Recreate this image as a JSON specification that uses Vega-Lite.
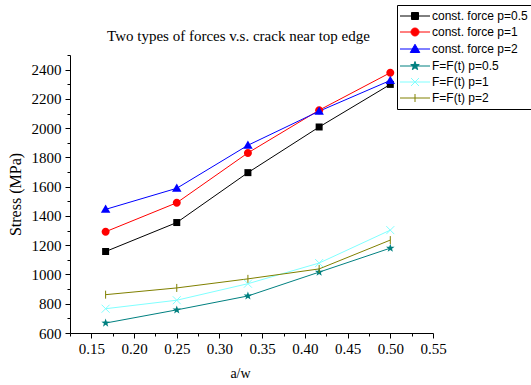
{
  "$schema": "https://vega.github.io/schema/vega-lite/v6.json",
  "width": 363,
  "height": 278,
  "autosize": {"type": "none"},
  "padding": {"left": 70, "top": 55, "right": 98, "bottom": 52},
  "background": "white",
  "title": {"text": "Two types of forces v.s. crack near top edge", "font": "Liberation Serif", "fontSize": 15, "fontWeight": "normal", "color": "black", "anchor": "middle", "offset": 8, "dx": -13, "dy": 47},
  "data": {"values": [
    {"series": "const. force p=0.5", "aw": 0.1667, "stress": 1157},
    {"series": "const. force p=0.5", "aw": 0.25, "stress": 1355},
    {"series": "const. force p=0.5", "aw": 0.3333, "stress": 1696},
    {"series": "const. force p=0.5", "aw": 0.4167, "stress": 2008},
    {"series": "const. force p=0.5", "aw": 0.5, "stress": 2299},
    {"series": "const. force p=1", "aw": 0.1667, "stress": 1292},
    {"series": "const. force p=1", "aw": 0.25, "stress": 1490},
    {"series": "const. force p=1", "aw": 0.3333, "stress": 1831},
    {"series": "const. force p=1", "aw": 0.4167, "stress": 2123},
    {"series": "const. force p=1", "aw": 0.5, "stress": 2379},
    {"series": "const. force p=2", "aw": 0.1667, "stress": 1445},
    {"series": "const. force p=2", "aw": 0.25, "stress": 1589},
    {"series": "const. force p=2", "aw": 0.3333, "stress": 1883},
    {"series": "const. force p=2", "aw": 0.4167, "stress": 2116},
    {"series": "const. force p=2", "aw": 0.5, "stress": 2326},
    {"series": "F=F(t) p=0.5", "aw": 0.1667, "stress": 668},
    {"series": "F=F(t) p=0.5", "aw": 0.25, "stress": 758},
    {"series": "F=F(t) p=0.5", "aw": 0.3333, "stress": 853},
    {"series": "F=F(t) p=0.5", "aw": 0.4167, "stress": 1016},
    {"series": "F=F(t) p=0.5", "aw": 0.5, "stress": 1180},
    {"series": "F=F(t) p=1", "aw": 0.1667, "stress": 766},
    {"series": "F=F(t) p=1", "aw": 0.25, "stress": 824},
    {"series": "F=F(t) p=1", "aw": 0.3333, "stress": 937},
    {"series": "F=F(t) p=1", "aw": 0.4167, "stress": 1078},
    {"series": "F=F(t) p=1", "aw": 0.5, "stress": 1303},
    {"series": "F=F(t) p=2", "aw": 0.1667, "stress": 862},
    {"series": "F=F(t) p=2", "aw": 0.25, "stress": 908},
    {"series": "F=F(t) p=2", "aw": 0.3333, "stress": 970},
    {"series": "F=F(t) p=2", "aw": 0.4167, "stress": 1038},
    {"series": "F=F(t) p=2", "aw": 0.5, "stress": 1235}
  ]},
  "config": {
    "view": {"stroke": null},
    "axis": {"domainColor": "black", "tickColor": "black", "labelColor": "black", "titleColor": "black", "labelFont": "Liberation Serif", "titleFont": "Liberation Serif", "labelFontSize": 15, "titleFontSize": 15, "titleFontWeight": "normal", "grid": false, "domainWidth": 1, "tickWidth": 1},
    "legend": {"title": null, "strokeColor": "black", "fillColor": "white", "padding": 5, "symbolOffset": 7, "labelOffset": 11, "rowPadding": 4, "labelFont": "Liberation Sans", "labelFontSize": 12, "labelColor": "black", "labelLimit": 300, "symbolOpacity": 1, "symbolStrokeWidth": 1, "symbolSize": 100}
  },
  "layer": [
    {
      "mark": {"type": "line", "strokeWidth": 1},
      "encoding": {
        "x": {"field": "aw", "type": "quantitative", "scale": {"domain": [0.125, 0.55], "nice": false, "zero": false}, "axis": {"orient": "bottom", "title": "a/w", "titleFontSize": 14, "titleX": 170, "values": [0.15, 0.2, 0.25, 0.3, 0.35, 0.4, 0.45, 0.5, 0.55], "format": ".2f", "tickSize": 5, "labelPadding": 3, "titlePadding": 10, "labelFlush": false}},
        "y": {"field": "stress", "type": "quantitative", "scale": {"domain": [600, 2500], "nice": false, "zero": false}, "axis": {"orient": "left", "title": "Stress (MPa)", "titleFontSize": 16, "values": [600, 800, 1000, 1200, 1400, 1600, 1800, 2000, 2200, 2400], "format": "d", "tickSize": 5, "labelPadding": 4, "titlePadding": 8, "labelFlush": false}},
        "color": {"field": "series", "type": "nominal", "scale": {"domain": ["const. force p=0.5", "const. force p=1", "const. force p=2", "F=F(t) p=0.5", "F=F(t) p=1", "F=F(t) p=2"], "range": ["#000000", "#FF0000", "#0000FF", "#008080", "#80FFFF", "#808000"]}, "legend": {"orient": "none", "legendX": 327, "legendY": -50}}
      }
    },
    {
      "transform": [{"filter": "datum.series === 'const. force p=0.5'"}],
      "mark": {"type": "point", "filled": true, "color": "#000000", "opacity": 1, "size": 100, "shape": "M-0.7,-0.7H0.7V0.7H-0.7Z"},
      "encoding": {"x": {"field": "aw", "type": "quantitative", "axis": null}, "y": {"field": "stress", "type": "quantitative", "axis": null}}
    },
    {
      "transform": [{"filter": "datum.series === 'const. force p=1'"}],
      "mark": {"type": "point", "filled": true, "color": "#FF0000", "opacity": 1, "size": 100, "shape": "M-0.8,0A0.8,0.8,0,1,0,0.8,0A0.8,0.8,0,1,0,-0.8,0Z"},
      "encoding": {"x": {"field": "aw", "type": "quantitative", "axis": null}, "y": {"field": "stress", "type": "quantitative", "axis": null}}
    },
    {
      "transform": [{"filter": "datum.series === 'const. force p=2'"}],
      "mark": {"type": "point", "filled": true, "color": "#0000FF", "opacity": 1, "size": 100, "shape": "M0,-0.95L0.95,0.7H-0.95Z"},
      "encoding": {"x": {"field": "aw", "type": "quantitative", "axis": null}, "y": {"field": "stress", "type": "quantitative", "axis": null}}
    },
    {
      "transform": [{"filter": "datum.series === 'F=F(t) p=0.5'"}],
      "mark": {"type": "point", "filled": true, "color": "#008080", "opacity": 1, "size": 100, "shape": "M0,-0.9L0.212,-0.291L0.856,-0.278L0.342,0.111L0.529,0.728L0,0.36L-0.529,0.728L-0.342,0.111L-0.856,-0.278L-0.212,-0.291Z"},
      "encoding": {"x": {"field": "aw", "type": "quantitative", "axis": null}, "y": {"field": "stress", "type": "quantitative", "axis": null}}
    },
    {
      "transform": [{"filter": "datum.series === 'F=F(t) p=1'"}],
      "mark": {"type": "point", "filled": false, "color": "#80FFFF", "opacity": 1, "strokeWidth": 1, "size": 100, "shape": "M-0.8,-0.8L0.8,0.8M-0.8,0.8L0.8,-0.8"},
      "encoding": {"x": {"field": "aw", "type": "quantitative", "axis": null}, "y": {"field": "stress", "type": "quantitative", "axis": null}}
    },
    {
      "transform": [{"filter": "datum.series === 'F=F(t) p=2'"}],
      "mark": {"type": "point", "filled": false, "color": "#808000", "opacity": 1, "strokeWidth": 1, "size": 100, "shape": "M0,-0.8V0.8"},
      "encoding": {"x": {"field": "aw", "type": "quantitative", "axis": null}, "y": {"field": "stress", "type": "quantitative", "axis": null}}
    },
    {
      "mark": {"type": "point", "filled": false, "opacity": 0, "size": 100, "strokeWidth": 1},
      "encoding": {
        "x": {"field": "aw", "type": "quantitative", "axis": {"orient": "bottom", "title": null, "labels": false, "domain": false, "tickSize": 3, "values": [0.125, 0.175, 0.225, 0.275, 0.325, 0.375, 0.425, 0.475, 0.525]}},
        "y": {"field": "stress", "type": "quantitative", "axis": {"orient": "left", "title": null, "labels": false, "domain": false, "tickSize": 3, "values": [700, 900, 1100, 1300, 1500, 1700, 1900, 2100, 2300, 2500]}},
        "color": {"field": "series", "type": "nominal", "legend": {"orient": "none", "legendX": 327, "legendY": -50}},
        "fill": {"field": "series", "type": "nominal", "scale": {"domain": ["const. force p=0.5", "const. force p=1", "const. force p=2", "F=F(t) p=0.5", "F=F(t) p=1", "F=F(t) p=2"], "range": ["#000000", "#FF0000", "#0000FF", "#008080", "#80FFFF", "#808000"]}, "legend": {"orient": "none", "legendX": 327, "legendY": -50}},
        "shape": {"field": "series", "type": "nominal", "scale": {"domain": ["const. force p=0.5", "const. force p=1", "const. force p=2", "F=F(t) p=0.5", "F=F(t) p=1", "F=F(t) p=2"], "range": ["M-3,0H3M-0.7,-0.7H0.7V0.7H-0.7Z", "M-3,0H3M-0.8,0A0.8,0.8,0,1,0,0.8,0A0.8,0.8,0,1,0,-0.8,0Z", "M-3,0H3M0,-0.95L0.95,0.7H-0.95Z", "M-3,0H3M0,-0.9L0.212,-0.291L0.856,-0.278L0.342,0.111L0.529,0.728L0,0.36L-0.529,0.728L-0.342,0.111L-0.856,-0.278L-0.212,-0.291Z", "M-3,0H3M-0.8,-0.8L0.8,0.8M-0.8,0.8L0.8,-0.8", "M-3,0H3M0,-0.8V0.8"]}, "legend": {"orient": "none", "legendX": 327, "legendY": -50}}
      }
    }
  ],
  "resolve": {"axis": {"x": "independent", "y": "independent"}}
}
